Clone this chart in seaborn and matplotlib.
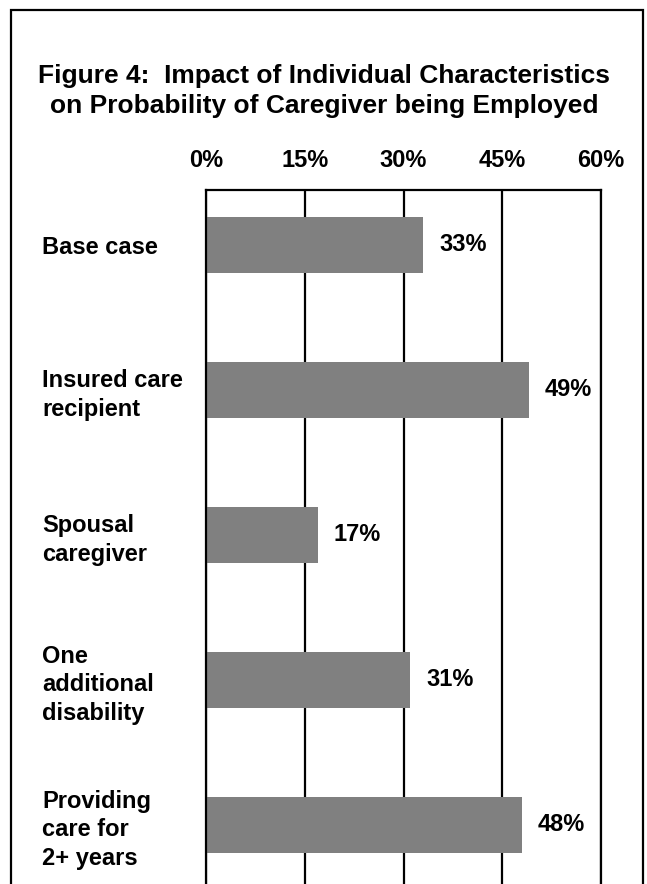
import matplotlib
matplotlib.use("Agg")
import matplotlib.pyplot as plt
import seaborn as sns
import pandas as pd
from matplotlib.patches import Rectangle
from matplotlib.ticker import FuncFormatter

categories = ["Base case", "Insured care\nrecipient", "Spousal\ncaregiver",
              "One\nadditional\ndisability", "Providing\ncare for\n2+ years"]
values = [33, 49, 17, 31, 48]
value_labels = ["33%", "49%", "17%", "31%", "48%"]
xticks = [0, 15, 30, 45, 60]
title = "Figure 4:  Impact of Individual Characteristics\non Probability of Caregiver being Employed"

sns.set_style("white")
plt.rcParams['font.family'] = ['Liberation Sans Narrow', 'Liberation Sans', 'DejaVu Sans']
plt.rcParams['text.color'] = 'black'
plt.rcParams['xtick.color'] = 'black'
plt.rcParams['ytick.color'] = 'black'

W, H = 647, 884
fig = plt.figure(figsize=(W / 100, H / 100), dpi=100)
fig.patch.set_facecolor("white")

ax = fig.add_axes([206 / W, 0, (601 - 206) / W, 1 - 190 / H])
df = pd.DataFrame({"cat": categories, "val": values})
sns.barplot(data=df, x="val", y="cat", orient="h", color="#808080",
            saturation=1, width=0.386, ax=ax, edgecolor="none")

fs = 17
ax.set_xlim(0, 60)
ax.set_ylim(4.41, -0.377)
ax.set_xticks(xticks)
ax.xaxis.set_major_formatter(FuncFormatter(lambda v, p: f"{v:.0f}%"))
ax.xaxis.tick_top()
ax.tick_params(axis="x", length=0, pad=13, labelsize=fs, labelcolor="black")
ax.tick_params(axis="y", length=0, labelsize=fs, labelcolor="black")
for lab in ax.get_xticklabels():
    lab.set_fontweight("bold")
ax.set_xlabel("")
ax.set_ylabel("")

# left-aligned category labels
for t in ax.yaxis.get_major_ticks():
    t.set_pad(118)
for lab in ax.get_yticklabels():
    lab.set_horizontalalignment("left")
    lab.set_fontweight("bold")
    lab.set_linespacing(1.3)

ax.set_axisbelow(True)
ax.grid(axis="x", color="black", linewidth=1.6)
ax.grid(axis="y", visible=False)
for s in ["top", "left", "right"]:
    ax.spines[s].set_visible(True)
    ax.spines[s].set_color("black")
    ax.spines[s].set_linewidth(1.6)
ax.spines["bottom"].set_visible(False)

for i, (v, lbl) in enumerate(zip(values, value_labels)):
    ax.annotate(lbl, xy=(v, i), xytext=(16, 0), textcoords="offset pixels",
                ha="left", va="center", fontsize=fs, fontweight="bold",
                color="black",
                bbox=dict(boxstyle="square,pad=0.1", fc="white", ec="none"))

fig.text(324 / W, 1 - 91 / H, title, ha="center", va="center",
         fontsize=19, fontweight="bold", family=["Liberation Sans", "DejaVu Sans"],
         linespacing=1.35, color="black")

fig.patches.append(Rectangle((11 / W, -0.05), (643 - 11) / W, 1.05 - 10 / H,
                             transform=fig.transFigure, fill=False,
                             edgecolor="black", linewidth=1.6))

fig.savefig("out.png", dpi=100, facecolor="white")
